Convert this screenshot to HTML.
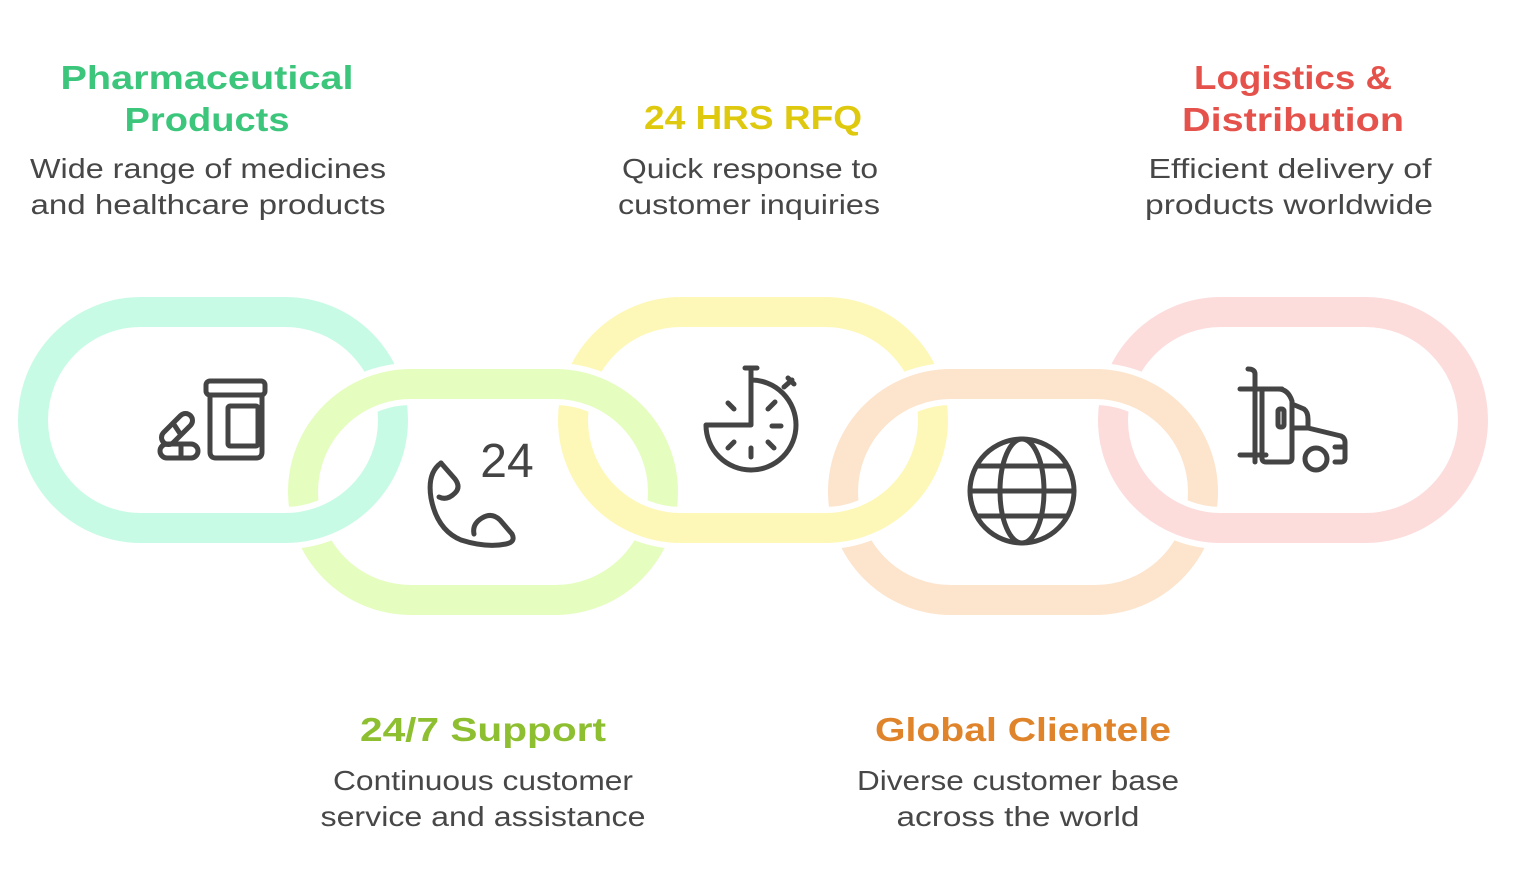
<!DOCTYPE html>
<html><head><meta charset="utf-8"><style>
html,body{margin:0;padding:0;background:#fff;}
svg{display:block;}
.t{font-family:"Liberation Sans",sans-serif;font-weight:bold;font-size:33px;text-anchor:middle;}
.d{font-family:"Liberation Sans",sans-serif;font-size:28px;fill:#474747;text-anchor:middle;}
</style></head><body>
<svg width="1524" height="873" viewBox="0 0 1524 873" xmlns="http://www.w3.org/2000/svg">
<defs>
<clipPath id="bot"><rect x="0" y="470" width="1524" height="200"/></clipPath>
</defs>
<g fill="none">
<!-- odd links -->
<rect x="33" y="312" width="360" height="216" rx="108" stroke="#c8fbe5" stroke-width="30"/>
<rect x="573" y="312" width="360" height="216" rx="108" stroke="#fef8b8" stroke-width="30"/>
<rect x="1113" y="312" width="360" height="216" rx="108" stroke="#fddcdc" stroke-width="30"/>
<!-- even links -->
<rect x="303" y="384" width="360" height="216" rx="108" stroke="#fff" stroke-width="42"/>
<rect x="303" y="384" width="360" height="216" rx="108" stroke="#e6fdc0" stroke-width="30"/>
<rect x="843" y="384" width="360" height="216" rx="108" stroke="#fff" stroke-width="42"/>
<rect x="843" y="384" width="360" height="216" rx="108" stroke="#fde4cc" stroke-width="30"/>
<!-- odd bottoms over -->
<g clip-path="url(#bot)">
<rect x="33" y="312" width="360" height="216" rx="108" stroke="#fff" stroke-width="42"/>
<rect x="33" y="312" width="360" height="216" rx="108" stroke="#c8fbe5" stroke-width="30"/>
<rect x="573" y="312" width="360" height="216" rx="108" stroke="#fff" stroke-width="42"/>
<rect x="573" y="312" width="360" height="216" rx="108" stroke="#fef8b8" stroke-width="30"/>
<rect x="1113" y="312" width="360" height="216" rx="108" stroke="#fff" stroke-width="42"/>
<rect x="1113" y="312" width="360" height="216" rx="108" stroke="#fddcdc" stroke-width="30"/>
</g>
</g>

<!-- icons -->
<g fill="none" stroke="#444" stroke-width="5" stroke-linecap="round" stroke-linejoin="round">
<!-- pharma -->
<rect x="206" y="381" width="59" height="14" rx="4"/>
<path d="M210 395 V452 q0 6 6 6 H256 q6 0 6-6 V395"/>
<rect x="228" y="406" width="30" height="40" rx="2"/>
<rect x="170" y="410" width="14" height="38" rx="7" transform="rotate(45 177 429)"/>
<line x1="172" y1="428" x2="182" y2="430" transform="rotate(45 177 429)"/>
<rect x="160" y="444" width="38" height="14" rx="7"/>
<line x1="181" y1="444" x2="181" y2="458"/>
<!-- phone -->
<path d="M441 463 q-14 10 -10 35 q6 32 30 42 q25 8 45 4 q10-2 6-10 l-12-14 q-8-8-18 -2 q-10 6 -8 16"/>
<path d="M441 463 l14 16 q6 8 0 14 q-8 8 -16 4"/>
<!-- stopwatch -->
<path d="M751 380 A45 45 0 1 1 706 425 H751 Z"/>
<line x1="745" y1="368" x2="757" y2="368"/>
<line x1="751" y1="368" x2="751" y2="380"/>
<line x1="784" y1="387" x2="792" y2="380"/>
<line x1="788" y1="378" x2="794" y2="384"/>
<line x1="728" y1="403" x2="734" y2="409"/>
<line x1="775" y1="402" x2="768" y2="409"/>
<line x1="772" y1="426" x2="781" y2="426"/>
<line x1="768" y1="442" x2="774" y2="448"/>
<line x1="751" y1="448" x2="751" y2="457"/>
<line x1="734" y1="442" x2="728" y2="448"/>
<!-- globe -->
<circle cx="1022" cy="491" r="52"/>
<ellipse cx="1022" cy="491" rx="22" ry="52"/>
<line x1="970" y1="491" x2="1074" y2="491"/>
<path d="M977 466 H1067 M977 516 H1067"/>
<!-- truck -->
<path d="M1248 369 q7 0 7 5 V462"/>
<line x1="1240" y1="389" x2="1282" y2="389"/>
<line x1="1240" y1="455" x2="1266" y2="455"/>
<path d="M1262 389 V458 q0 4 4 4 H1288 q4 0 4-4 V401 q-4-12-14-12"/>
<rect x="1278" y="409" width="6" height="18" rx="2"/>
<path d="M1292 404 l12 5 q4 3 4 10 V428 l33 8 q4 2 4 6 V458 q0 4-4 4 H1335"/>
<line x1="1292" y1="428" x2="1308" y2="428"/>
<line x1="1335" y1="447" x2="1343" y2="447"/>
<circle cx="1316" cy="459" r="11"/>
</g>
<text x="507" y="477" font-family="Liberation Sans,sans-serif" font-size="48" fill="#444" text-anchor="middle">24</text>

<!-- texts -->
<text class="t" x="207" y="89" fill="#3cc67c" textLength="293" lengthAdjust="spacingAndGlyphs">Pharmaceutical</text>
<text class="t" x="207" y="131" fill="#3cc67c" textLength="165" lengthAdjust="spacingAndGlyphs">Products</text>
<text class="d" x="208" y="178" textLength="356" lengthAdjust="spacingAndGlyphs">Wide range of medicines</text>
<text class="d" x="208" y="214" textLength="355" lengthAdjust="spacingAndGlyphs">and healthcare products</text>

<text class="t" x="753" y="129" fill="#dfc90e" textLength="218" lengthAdjust="spacingAndGlyphs">24 HRS RFQ</text>
<text class="d" x="750" y="178" textLength="256" lengthAdjust="spacingAndGlyphs">Quick response to</text>
<text class="d" x="749" y="214" textLength="262" lengthAdjust="spacingAndGlyphs">customer inquiries</text>

<text class="t" x="1293" y="89" fill="#e5524c" textLength="198" lengthAdjust="spacingAndGlyphs">Logistics &amp;</text>
<text class="t" x="1293" y="131" fill="#e5524c" textLength="222" lengthAdjust="spacingAndGlyphs">Distribution</text>
<text class="d" x="1290" y="178" textLength="283" lengthAdjust="spacingAndGlyphs">Efficient delivery of</text>
<text class="d" x="1289" y="214" textLength="288" lengthAdjust="spacingAndGlyphs">products worldwide</text>

<text class="t" x="483" y="741" fill="#8dbf30" textLength="246" lengthAdjust="spacingAndGlyphs">24/7 Support</text>
<text class="d" x="483" y="790" textLength="300" lengthAdjust="spacingAndGlyphs">Continuous customer</text>
<text class="d" x="483" y="826" textLength="325" lengthAdjust="spacingAndGlyphs">service and assistance</text>

<text class="t" x="1023" y="741" fill="#e0842c" textLength="296" lengthAdjust="spacingAndGlyphs">Global Clientele</text>
<text class="d" x="1018" y="790" textLength="322" lengthAdjust="spacingAndGlyphs">Diverse customer base</text>
<text class="d" x="1018" y="826" textLength="243" lengthAdjust="spacingAndGlyphs">across the world</text>
</svg>
</body></html>
